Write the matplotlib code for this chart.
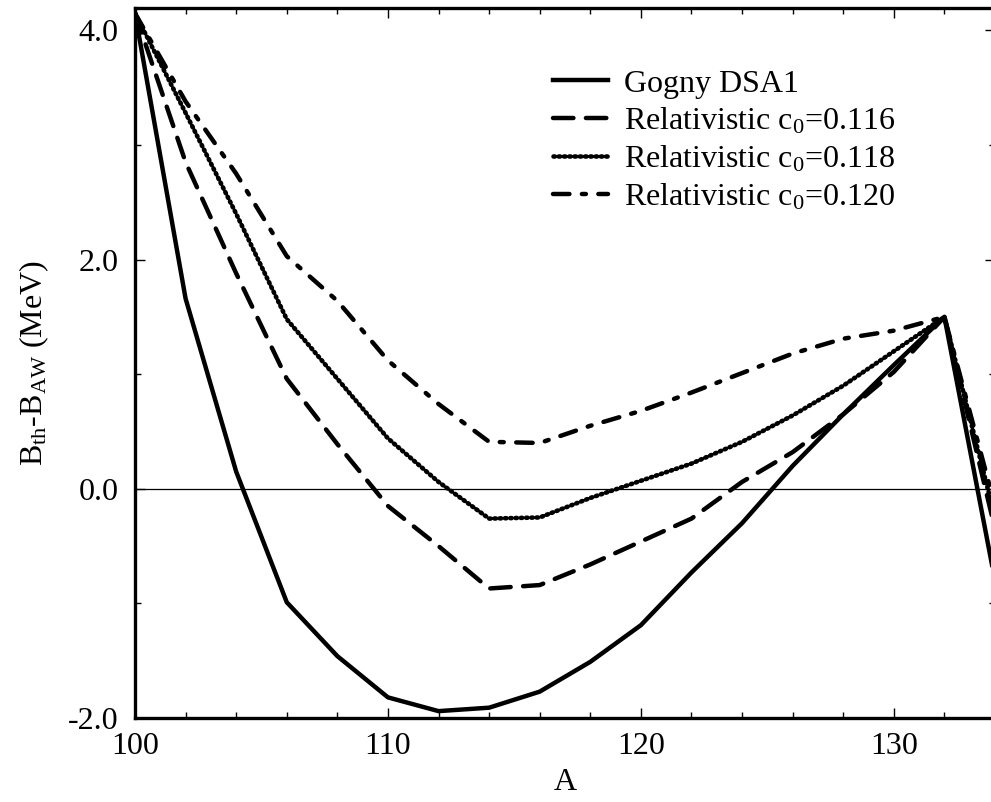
import numpy as np
import matplotlib.pyplot as plt

plt.rcParams['font.family'] = ['Liberation Serif', 'DejaVu Serif']
plt.rcParams['mathtext.fontset'] = 'custom'
plt.rcParams['mathtext.rm'] = 'Liberation Serif'
plt.rcParams['mathtext.it'] = 'Liberation Serif:italic'

# mass number A
A = [100, 102, 104, 106, 108, 110, 112, 114, 116, 118,
     120, 122, 124, 126, 128, 130, 132, 134]

# B_th - B_AW (MeV)
gogny = [4.15, 1.66, 0.15, -0.99, -1.46, -1.82, -1.94, -1.91, -1.77, -1.51,
         -1.19, -0.73, -0.30, 0.20, 0.65, 1.08, 1.50, -0.80]
rel116 = [4.15, 2.85, 1.88, 0.96, 0.39, -0.15, -0.50, -0.87, -0.84, -0.66,
          -0.46, -0.26, 0.06, 0.32, 0.65, 1.02, 1.50, -0.35]
rel118 = [4.15, 3.28, 2.40, 1.48, 0.96, 0.44, 0.06, -0.26, -0.25, -0.08,
          0.07, 0.22, 0.41, 0.64, 0.90, 1.20, 1.50, -0.25]
rel120 = [4.15, 3.38, 2.75, 2.03, 1.64, 1.12, 0.74, 0.41, 0.40, 0.55,
          0.68, 0.84, 1.01, 1.18, 1.31, 1.38, 1.50, -0.15]

labels = ['Gogny DSA1',
          r'Relativistic c$_0$=0.116',
          r'Relativistic c$_0$=0.118',
          r'Relativistic c$_0$=0.120']

fs = 23

fig = plt.figure(figsize=(9.91, 8.02), dpi=100)
ax = fig.add_axes([135/991, 84/802, 860/991, 710.5/802])

lw = 3.2
ax.plot(A, gogny, color='k', lw=lw, label=labels[0])
ax.plot(A, rel116, color='k', lw=lw, dashes=(4.6, 2.8),
        dash_capstyle='round', label=labels[1])
ax.plot(A, rel118, color='k', lw=3.3, dashes=(0.3, 0.85),
        dash_capstyle='round', label=labels[2])
ax.plot(A, rel120, color='k', lw=lw, dashes=(3.7, 2.8, 0.9, 2.8),
        dash_capstyle='round', label=labels[3])
ax.axhline(0, color='k', lw=0.9)

ax.set_xlim(100, 134)
ax.set_ylim(-2.0, 4.2)
ax.set_xticks([100, 110, 120, 130])
ax.set_xticks(np.arange(100, 135, 2), minor=True)
ax.set_yticks([-2.0, 0.0, 2.0, 4.0])
ax.set_yticks(np.arange(-2, 4.5, 1.0), minor=True)
ax.set_yticklabels(['-2.0', '0.0', '2.0', '4.0'])
ax.tick_params(which='both', direction='in', top=True, right=True,
               labelsize=fs, width=1.0)
ax.tick_params(which='major', length=7.5)
ax.tick_params(which='minor', length=4)
ax.tick_params(axis='y', pad=12)
ax.tick_params(axis='x', pad=10)
for s in ax.spines.values():
    s.set_linewidth(2.4)

ax.set_xlabel('A', fontsize=fs, labelpad=5)
ax.set_ylabel(r'B$_{\rm th}$-B$_{\rm AW}$ (MeV)', fontsize=fs, labelpad=12)

ax.legend(loc='upper left', bbox_to_anchor=(0.486, 0.913), frameon=False,
          fontsize=fs, handlelength=1.72, handletextpad=0.5,
          labelspacing=0.23, borderpad=0, borderaxespad=0)

fig.savefig('out.png', dpi=100)
